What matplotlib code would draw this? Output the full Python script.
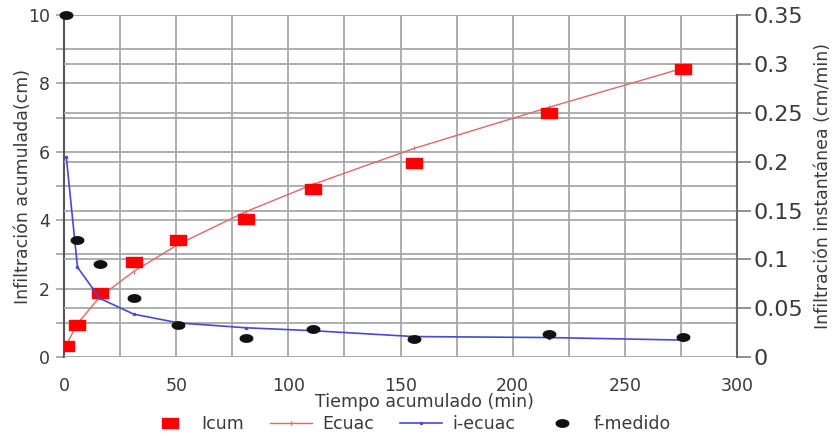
import numpy as np
import matplotlib
matplotlib.use("Agg")
import matplotlib.pyplot as plt
from matplotlib.path import Path
from matplotlib.lines import Line2D
from matplotlib.ticker import MultipleLocator

plt.rcParams["font.family"] = ["DejaVu Sans"]

# data
tiempo = [1, 6, 16, 31, 51, 81, 111, 156, 216, 276]
icum = [0.33, 0.94, 1.87, 2.79, 3.42, 4.04, 4.91, 5.68, 7.13, 8.42]
ecuac = [0.35, 0.98, 1.76, 2.5, 3.3, 4.25, 5.05, 6.1, 7.3, 8.45]
i_ecuac = [0.205, 0.092, 0.060, 0.044, 0.035, 0.030, 0.027, 0.021, 0.020, 0.0174]
f_medido = [0.35, 0.120, 0.095, 0.060, 0.033, 0.020, 0.029, 0.018, 0.024, 0.021]
etiquetas = ["Icum", "Ecuac", "i-ecuac", "f-medido"]

text_col = "#3a3a3a"
grid_col = "#a8a8a8"

# wide markers: rectangle and ellipse
rect = Path([(-1.5, -0.9), (1.5, -0.9), (1.5, 0.9), (-1.5, 0.9), (-1.5, -0.9)],
            [Path.MOVETO, Path.LINETO, Path.LINETO, Path.LINETO, Path.CLOSEPOLY])
th = np.linspace(0, 2 * np.pi, 40)
ell = Path(np.column_stack([1.6 * np.cos(th), 0.95 * np.sin(th)]))

pos = [0.0765, 0.181, 0.804, 0.7844]
fig = plt.figure(figsize=(8.37, 4.36), dpi=100)
ax = fig.add_axes(pos)          # left axis + grids
axr = ax.twinx()                # right axis + its grid
axd = fig.add_axes(pos, sharex=ax, sharey=ax)   # red data on top of grids
axd2 = axd.twinx()              # blue/black data on top
ax.set_zorder(0)
axr.set_zorder(1)
axd.set_zorder(2)
axd2.set_zorder(3)

ax.set_xlim(0, 300)
ax.set_ylim(0, 10)
axr.set_ylim(0, 0.35)
axd2.set_ylim(0, 0.35)

ax.xaxis.set_major_locator(MultipleLocator(50))
ax.xaxis.set_minor_locator(MultipleLocator(25))
ax.yaxis.set_major_locator(MultipleLocator(2))
ax.yaxis.set_minor_locator(MultipleLocator(1))
axr.yaxis.set_major_locator(MultipleLocator(0.05))

ax.grid(True, which="both", axis="both", color=grid_col, lw=1.3)
axr.grid(True, which="major", axis="y", color=grid_col, lw=1.3)

axd.plot(tiempo, ecuac, color="#e06868", lw=1.0, marker="|", ms=3, mew=0.8)
axd.plot(tiempo, icum, ls="none", marker=rect, ms=11, color="#ff0000")
axd2.plot(tiempo, i_ecuac, color="#4848d8", lw=1.2, marker=".", ms=3)
axd2.plot(tiempo, f_medido, ls="none", marker=ell, ms=9, color="#111111",
          clip_on=False)
axd.axis("off")
axd2.axis("off")

for a in (ax, axr):
    for s in a.spines.values():
        s.set_visible(False)
ax.spines["left"].set_visible(True)
ax.spines["left"].set_color("#555555")
ax.spines["left"].set_linewidth(1.5)
axr.spines["right"].set_visible(True)
axr.spines["right"].set_color("#666666")
axr.spines["right"].set_linewidth(1.5)

ax.tick_params(axis="both", which="both", colors=text_col, labelsize=12.5)
ax.tick_params(axis="y", which="both", length=6, color=grid_col, width=1.3, pad=4)
ax.tick_params(axis="x", which="both", length=0, pad=14)
axr.tick_params(axis="y", length=10, color="#888888", width=1.3, colors=text_col,
                labelsize=16, pad=2)
axr.yaxis.set_major_formatter(plt.FuncFormatter(lambda v, p: f"{v:g}"))

ax.set_xlabel("Tiempo acumulado (min)", fontsize=12.5, color=text_col)
ax.xaxis.set_label_coords(0.535, -0.105)
ax.set_ylabel("Infiltración acumulada(cm)", fontsize=12.5, color=text_col)
ax.yaxis.set_label_coords(-0.048, 0.5)
axr.set_ylabel("Infiltración instantánea (cm/min)", fontsize=12.5, color=text_col)
axr.yaxis.set_label_coords(1.115, 0.5)

handles = [
    Line2D([], [], ls="none", marker=rect, ms=11, color="#ff0000"),
    Line2D([], [], color="#e06868", lw=1.0, marker="|", ms=3),
    Line2D([], [], color="#4848d8", lw=1.2, marker=".", ms=3),
    Line2D([], [], ls="none", marker=ell, ms=9, color="#111111"),
]
fig.legend(handles, etiquetas, loc="lower center",
           bbox_to_anchor=(0.49, -0.03), ncol=4, frameon=False, fontsize=12.5,
           handlelength=2.4, handletextpad=0.6, columnspacing=1.5,
           labelcolor=text_col)

fig.savefig("out.png", dpi=100)
